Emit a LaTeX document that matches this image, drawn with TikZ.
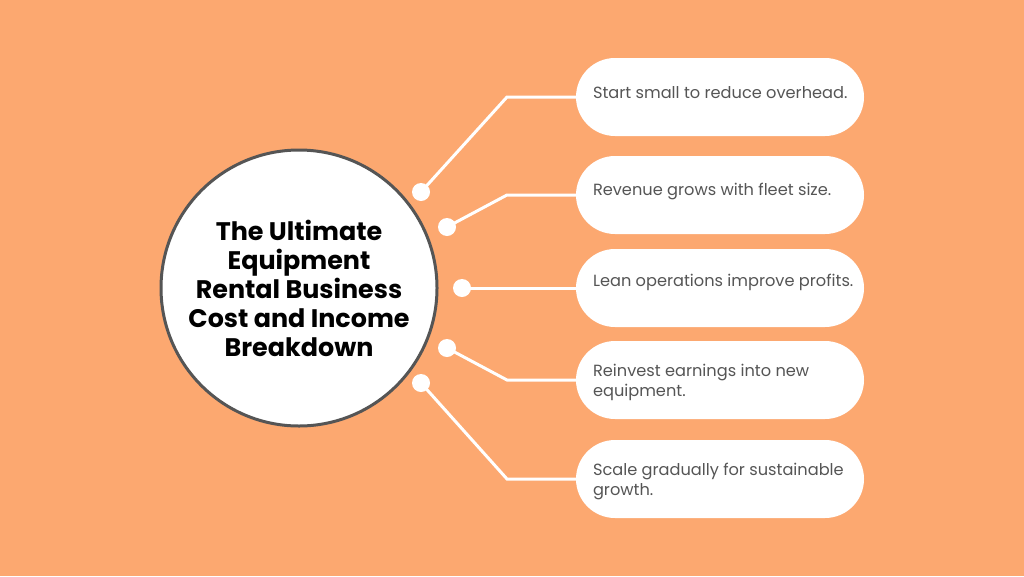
\documentclass[tikz,border=0pt]{standalone}
\usepackage{fontspec}
\setmainfont{Poppins}
\definecolor{bg}{HTML}{FCA870}
\definecolor{txtgray}{HTML}{555555}
\definecolor{ringgray}{HTML}{555555}
\begin{document}
\begin{tikzpicture}[x=1pt,y=-1pt,
  box/.style={draw=none,fill=white,rounded corners=39pt,minimum width=288pt,minimum height=78pt,inner sep=0pt},
  boxtxt/.style={anchor=west,align=left,text=txtgray,font=\fontsize{16.2}{20}\selectfont,inner sep=0pt},
  dot/.style={circle,fill=white,minimum size=18pt,inner sep=0pt},
  conn/.style={draw=white,line width=3pt}]
\fill[bg] (0,0) rectangle (1024,576);
\useasboundingbox (0,0) rectangle (1024,576);
\node[circle,fill=white,draw=ringgray,line width=3pt,minimum size=276pt,inner sep=0pt,
  align=center,font=\fontsize{25.4}{29}\selectfont\bfseries] (c) at (299,288)
  {The Ultimate\\Equipment\\Rental Business\\Cost and Income\\Breakdown};
\node[box] (b1) at (720,97) {};
\node[box] (b2) at (720,195) {};
\node[box] (b3) at (720,288) {};
\node[box] (b4) at (720,380) {};
\node[box] (b5) at (720,479) {};
\node[boxtxt] (t1) at ([xshift=17pt,yshift=4pt]b1.west) {Start small to reduce overhead.};
\node[boxtxt] (t2) at ([xshift=17pt,yshift=4pt]b2.west) {Revenue grows with fleet size.};
\node[boxtxt] (t3) at ([xshift=17pt,yshift=6pt]b3.west) {Lean operations improve profits.};
\node[boxtxt] (t4) at ([xshift=17pt,yshift=-2pt]b4.west) {Reinvest earnings into new\\equipment.};
\node[boxtxt] (t5) at ([xshift=17pt,yshift=-2pt]b5.west) {Scale gradually for sustainable\\growth.};
\node[dot] (d1) at (421,192) {};
\node[dot] (d2) at (447,227) {};
\node[dot] (d3) at (462,288) {};
\node[dot] (d4) at (447,348) {};
\node[dot] (d5) at (421,383) {};
\coordinate (k1) at (507,97);
\coordinate (k2) at (507,195);
\coordinate (k4) at (507,380);
\coordinate (k5) at (507,479);
\draw[conn] (d1.center) -- (k1) -- (b1.west);
\draw[conn] (d2.center) -- (k2) -- (b2.west);
\draw[conn] (d3.center) -- (b3.west);
\draw[conn] (d4.center) -- (k4) -- (b4.west);
\draw[conn] (d5.center) -- (k5) -- (b5.west);
\end{tikzpicture}
\end{document}
